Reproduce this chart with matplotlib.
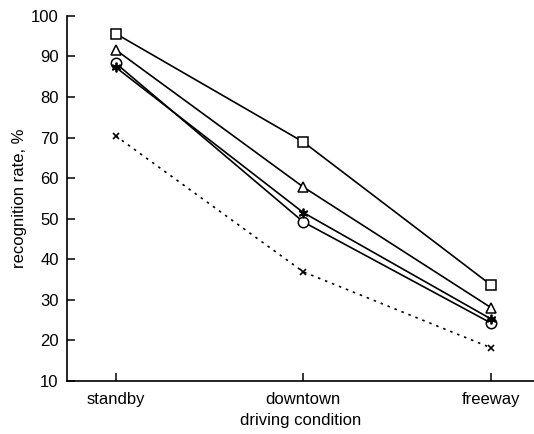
import matplotlib
matplotlib.use("Agg")
import matplotlib.pyplot as plt

plt.rcParams['font.family'] = ['Liberation Sans', 'DejaVu Sans']

conditions = ["standby", "downtown", "freeway"]
serie_quadrado = [95.6, 68.9, 33.7]
serie_triangulo = [91.6, 57.8, 28.1]
serie_circulo = [88.3, 49.2, 24.3]
serie_estrela = [87.3, 51.5, 25.3]
serie_x = [70.4, 36.9, 18.2]

fig = plt.figure(figsize=(5.34, 4.34), dpi=100)
ax = fig.add_axes([0.1255, 0.1221, 0.8745, 0.8415])

xs = range(len(conditions))
ax.plot(xs, serie_quadrado, color="black", lw=1.2, marker="s", ms=7, mfc="white", mec="black", mew=1.1)
ax.plot(xs, serie_triangulo, color="black", lw=1.2, marker="^", ms=7.5, mfc="white", mec="black", mew=1.1)
ax.plot(xs, serie_circulo, color="black", lw=1.2, marker="o", ms=7.5, mfc="white", mec="black", mew=1.1)
ax.plot(xs, serie_estrela, color="black", lw=1.2, marker=(6, 2, 0), ms=7, mec="black", mew=1.3)
ax.plot(xs, serie_x, color="black", lw=1.2, ls=(0, (1.5, 3)), marker="x", ms=5, mec="black", mew=1.2)

ax.set_xlim(-0.26, 2.23)
ax.set_ylim(10, 100)
ax.set_yticks(range(10, 101, 10))
ax.set_xticks(list(xs))
ax.set_xticklabels(conditions)

ax.spines["top"].set_visible(False)
ax.spines["right"].set_visible(False)
ax.spines["left"].set_linewidth(1.2)
ax.spines["bottom"].set_linewidth(1.2)
ax.tick_params(direction="in", length=6, width=1.1, labelsize=12)
ax.tick_params(axis="y", pad=6)
ax.tick_params(axis="x", pad=8)

ax.set_xlabel("driving condition", fontsize=12, labelpad=4)
ax.set_ylabel("recognition rate, %", fontsize=12, labelpad=3)

fig.savefig("out.png", dpi=100)
